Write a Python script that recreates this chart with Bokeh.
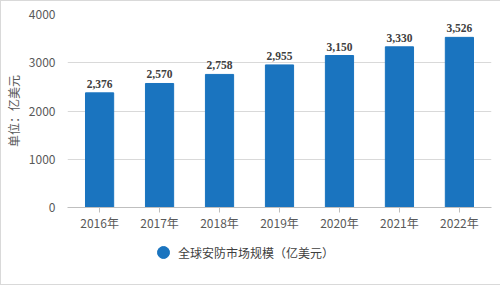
from bokeh.plotting import figure
from bokeh.layouts import column
from bokeh.models import ColumnDataSource, LabelSet, Legend, LegendItem, FactorRange
from bokeh.embed import file_html
from bokeh.resources import INLINE

years = ["2016年", "2017年", "2018年", "2019年", "2020年", "2021年", "2022年"]
values = [2376, 2570, 2758, 2955, 3150, 3330, 3526]
labels = [f"{v:,}" for v in values]
series_name = "全球安防市场规模（亿美元）"
y_title = "单位：亿美元"

BAR = "#1a74bf"
FONT = "Noto Sans CJK SC"

src = ColumnDataSource(dict(x=years, top=values, label=labels))

p = figure(frame_width=424, frame_height=193, output_backend="svg", toolbar_location=None,
           x_range=FactorRange(*years, range_padding=0.01), y_range=(0, 4000),
           min_border_left=64, min_border_right=10, min_border_top=13, min_border_bottom=26)
p.outline_line_color = None
p.background_fill_color = "white"
p.border_fill_color = "white"

p.vbar(x="x", top="top", width=0.47, source=src, color=BAR)

p.add_layout(LabelSet(x="x", y="top", text="label", source=src, text_align="center",
                      text_baseline="bottom", y_offset=5, text_font="DejaVu Sans",
                      text_font_style="bold", text_font_size="11.5px", text_color="#404040"))

p.xgrid.grid_line_color = None
p.ygrid.grid_line_color = "#d9d9d9"
p.yaxis.ticker = [0, 1000, 2000, 3000, 4000]
p.yaxis.axis_line_color = None
p.yaxis.major_tick_line_color = None
p.yaxis.minor_tick_line_color = None
p.yaxis.major_label_text_font = FONT
p.yaxis.major_label_text_font_size = "12px"
p.yaxis.major_label_text_color = "#595959"
p.yaxis.major_label_standoff = 6
p.yaxis.axis_label = y_title
p.yaxis.axis_label_text_font = FONT
p.yaxis.axis_label_text_font_size = "12px"
p.yaxis.axis_label_text_font_style = "normal"
p.yaxis.axis_label_text_color = "#595959"
p.yaxis.axis_label_standoff = 4

p.xaxis.axis_line_color = "#bfbfbf"
p.xaxis.major_tick_line_color = "#bfbfbf"
p.xaxis.major_tick_out = 5
p.xaxis.major_tick_in = 0
p.xaxis.major_label_text_font = FONT
p.xaxis.major_label_text_font_size = "12px"
p.xaxis.major_label_text_color = "#595959"
p.xaxis.major_label_standoff = 1

# legend strip underneath the chart
q = figure(frame_width=498, frame_height=51, output_backend="svg", toolbar_location=None,
           x_range=(0, 1), y_range=(0, 1), min_border=0)
q.axis.visible = False
q.grid.visible = False
q.outline_line_color = None
q.background_fill_color = "white"
q.border_fill_color = "white"
# off-screen point only so that the legend has a circle glyph to draw
real = q.scatter(x=[-5], y=[-5], marker="circle", size=12, color=BAR)
legend = Legend(items=[LegendItem(label=series_name, renderers=[real], index=0)],
                location=(147, 17), padding=0, margin=0, spacing=0,
                glyph_width=30, glyph_height=30, label_height=30,
                label_text_font=FONT, label_text_font_size="12px",
                label_text_color="#404040", label_standoff=0,
                border_line_color=None, background_fill_alpha=0)
q.add_layout(legend, "center")

lay = column(p, q, spacing=0)
lay.styles = {"border": "1px solid #d9d9d9"}

open("out.html", "w").write(file_html(lay, INLINE))
